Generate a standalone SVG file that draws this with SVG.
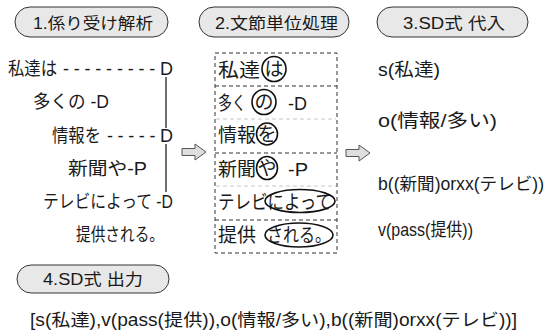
<svg xmlns="http://www.w3.org/2000/svg" width="550" height="336" viewBox="0 0 550 336">
<style>
text{font-family:"Liberation Sans","Noto Sans CJK JP",sans-serif;fill:#1a1a1a}
.pt{font-size:16px}
.t{font-size:18px}
.m{font-size:19px}
.r{font-size:18.5px}
.b{font-size:17.5px}
.pill{fill:#e8e8e8;stroke:#333;stroke-width:1}
.dash{fill:none;stroke:#333;stroke-width:1;stroke-dasharray:4,3}
.faint{fill:none;stroke:#c8c8c8;stroke-width:1;stroke-dasharray:4,3}
.ring{fill:none;stroke:#111;stroke-width:1.6}
.arrow{fill:#dedede;stroke:#555;stroke-width:1}
.line{stroke:#111;stroke-width:1.2}
</style>
<defs>
<path id="blk" d="M0,-3.5 H13 V-8 L24,0 L13,8 V3.5 H0 Z"/>
</defs>
<g id="step1">
<rect class="pill" x="15" y="7" width="153" height="30" rx="15" ry="15"/>
<text class="pt" x="33" y="29" textLength="120" lengthAdjust="spacingAndGlyphs">1.係り受け解析</text>
</g>
<g id="step2">
<rect class="pill" x="199" y="7" width="150" height="30" rx="15" ry="15"/>
<text class="pt" x="215" y="29" textLength="123" lengthAdjust="spacingAndGlyphs">2.文節単位処理</text>
</g>
<g id="step3">
<rect class="pill" x="377" y="7" width="151" height="30" rx="15" ry="15"/>
<text class="pt" x="403" y="29" textLength="102" lengthAdjust="spacingAndGlyphs">3.SD式 代入</text>
</g>
<g id="step4">
<rect class="pill" x="17" y="265" width="152" height="28" rx="14" ry="14"/>
<text class="pt" x="43" y="285" textLength="100" lengthAdjust="spacingAndGlyphs">4.SD式 出力</text>
</g>
<g id="parse">
<text class="t" x="8" y="75" textLength="49" lengthAdjust="spacingAndGlyphs">私達は</text>
<text class="t" x="63" y="75" textLength="110" lengthAdjust="spacing">---------D</text>
<text class="t" x="33" y="108" textLength="76" lengthAdjust="spacingAndGlyphs">多くの -D</text>
<text class="t" x="52" y="142" textLength="49" lengthAdjust="spacingAndGlyphs">情報を</text>
<text class="t" x="107" y="142" textLength="66" lengthAdjust="spacing">-----D</text>
<text class="t" x="68" y="175" textLength="79" lengthAdjust="spacingAndGlyphs">新聞や-P</text>
<text class="t" x="43" y="208" textLength="130" lengthAdjust="spacingAndGlyphs">テレビによって -D</text>
<text class="t" x="76" y="241" textLength="88" lengthAdjust="spacingAndGlyphs">提供される。</text>
</g>
<g id="units">
<path class="dash" d="M215,53 H337 V253 H215 Z M215,86 H337 M215,153 H337 M215,220 H337"/>
<path class="faint" d="M216,119 H336 M216,186 H336"/>
<text class="m" x="218" y="77" textLength="42" lengthAdjust="spacingAndGlyphs">私達</text>
<ellipse class="ring" cx="274" cy="69" rx="12" ry="12.5"/>
<text class="m" x="274" y="76" text-anchor="middle">は</text>
<text class="m" x="218" y="110" textLength="28" lengthAdjust="spacingAndGlyphs">多く</text>
<ellipse class="ring" cx="264" cy="102" rx="12" ry="12.5"/>
<text class="m" x="264" y="109" text-anchor="middle">の</text>
<text class="m" x="288" y="110" textLength="19" lengthAdjust="spacingAndGlyphs">-D</text>
<text class="m" x="218" y="142" textLength="38" lengthAdjust="spacingAndGlyphs">情報</text>
<ellipse class="ring" cx="267" cy="134" rx="10.5" ry="11"/>
<text class="m" x="267" y="141" text-anchor="middle">を</text>
<text class="m" x="218" y="176" textLength="38" lengthAdjust="spacingAndGlyphs">新聞</text>
<ellipse class="ring" cx="267" cy="168" rx="10.5" ry="11.5"/>
<text class="m" x="267" y="175" text-anchor="middle">や</text>
<text class="m" x="288" y="176" textLength="20" lengthAdjust="spacingAndGlyphs">-P</text>
<text class="m" x="218" y="209" textLength="114" lengthAdjust="spacingAndGlyphs">テレビによって</text>
<ellipse class="ring" cx="300" cy="201" rx="35" ry="11.5"/>
<text class="m" x="218" y="242" textLength="38" lengthAdjust="spacingAndGlyphs">提供</text>
<text class="m" x="267" y="242" textLength="64" lengthAdjust="spacingAndGlyphs">される。</text>
<ellipse class="ring" cx="299" cy="235" rx="34" ry="12"/>
</g>
<g id="sd">
<text class="r" x="378" y="76" textLength="62" lengthAdjust="spacingAndGlyphs">s(私達)</text>
<text class="r" x="378" y="127" textLength="119" lengthAdjust="spacingAndGlyphs">o(情報/多い)</text>
<text class="r" x="378" y="190" style="font-size:17.5px" textLength="166" lengthAdjust="spacingAndGlyphs">b((新聞)orxx(テレビ))</text>
<text class="r" x="378" y="236" textLength="95" lengthAdjust="spacingAndGlyphs">v(pass(提供))</text>
</g>
<g id="output">
<text class="b" x="30" y="326" textLength="487" lengthAdjust="spacingAndGlyphs">[s(私達),v(pass(提供)),o(情報/多い),b((新聞)orxx(テレビ))]</text>
</g>
<g id="connectors">
<line class="line" x1="166" y1="77" x2="166" y2="128"/>
<line class="line" x1="166" y1="144" x2="166" y2="192"/>
<use href="#blk" class="arrow" x="182" y="152"/>
<use href="#blk" class="arrow" x="346" y="153"/>
</g>
</svg>
